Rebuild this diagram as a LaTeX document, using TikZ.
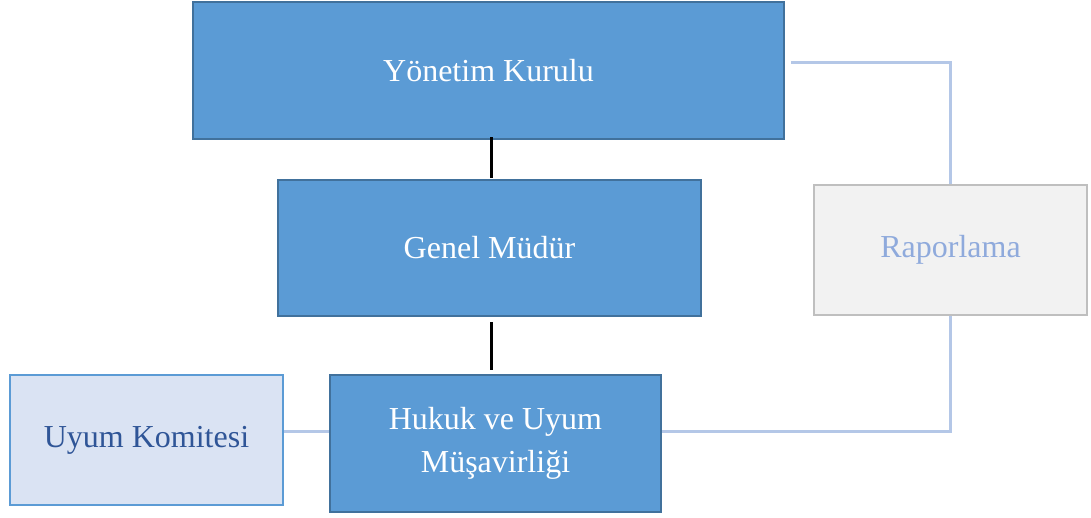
\documentclass[tikz,border=0pt]{standalone}
\usepackage{fontspec}
\setmainfont{Liberation Serif}
\definecolor{bfill}{HTML}{5B9BD5}
\definecolor{bline}{HTML}{41719C}
\definecolor{ukfill}{HTML}{DAE3F3}
\definecolor{uktext}{HTML}{2F5597}
\definecolor{rpfill}{HTML}{F2F2F2}
\definecolor{rpline}{HTML}{BFBFBF}
\definecolor{rptext}{HTML}{8FAADC}
\definecolor{conn}{HTML}{B4C7E7}
\begin{document}
\begin{tikzpicture}[x=1pt,y=-1pt,
  box/.style={rectangle, draw, line width=2pt, inner sep=0pt, align=center,
    font=\fontsize{32}{43}\selectfont},
  bluebox/.style={box, fill=bfill, draw=bline, text=white},
  ukbox/.style={box, fill=ukfill, draw=bfill, text=uktext},
  rpbox/.style={box, fill=rpfill, draw=rpline, text=rptext},
  blk/.style={line width=3pt, black},
  lb/.style={line width=3pt, conn}]
\useasboundingbox (0,0) rectangle (1091,517);
\node[bluebox, minimum width=591pt, minimum height=137pt] (yk) at (488.5,70.5) {Yönetim Kurulu};
\node[bluebox, minimum width=423pt, minimum height=136pt] (gm) at (489.5,248) {Genel Müdür};
\node[bluebox, minimum width=331pt, minimum height=137pt] (hk) at (495.5,443.5) {\raisebox{-3pt}{\parbox{300pt}{\centering Hukuk ve Uyum\\Müşavirliği}}};
\node[ukbox, minimum width=273pt, minimum height=130pt] (uk) at (146.5,440) {Uyum Komitesi};
\node[rpbox, minimum width=273pt, minimum height=130pt] (rp) at (950.5,250) {Raporlama};
\coordinate (t1) at (491,137);
\coordinate (t2) at (491,178);
\coordinate (t3) at (491,322);
\coordinate (t4) at (491,370);
\draw[blk] (t1) -- (t2);
\draw[blk] (t3) -- (t4);
\draw[lb] (uk.east |- 0,431) -- (hk.west |- 0,431);
\draw[lb] (hk.east |- 0,431) -| (rp.south);
\draw[lb] (rp.north) |- ([xshift=6pt]yk.east |- 0,62);
\end{tikzpicture}
\end{document}
